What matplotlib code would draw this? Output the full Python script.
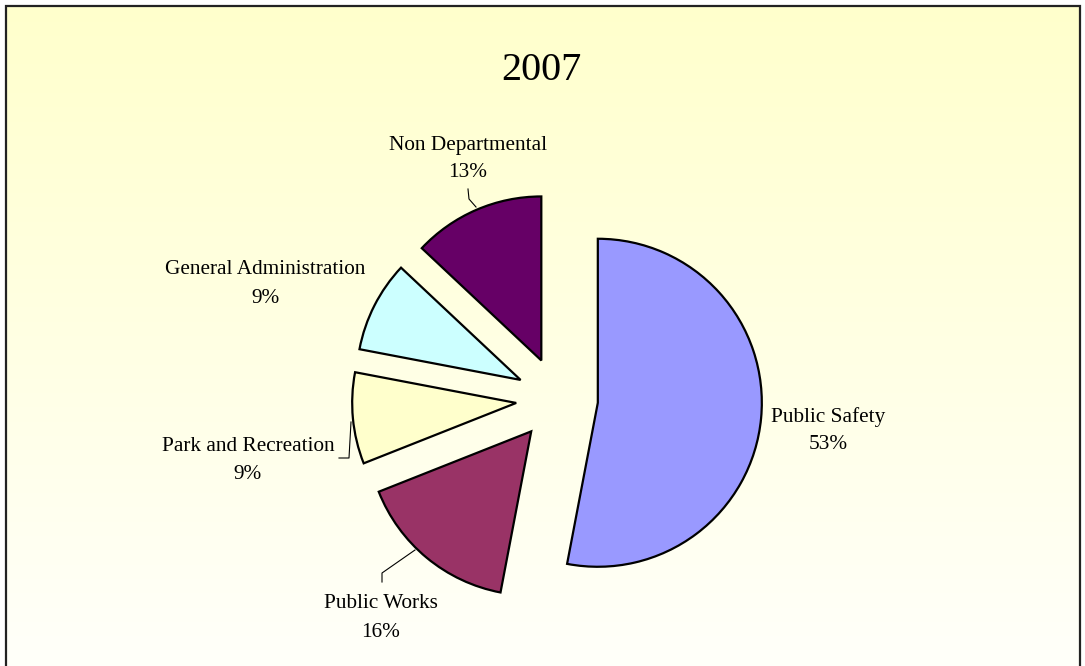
import numpy as np
import matplotlib
matplotlib.use("Agg")
import matplotlib.pyplot as plt

# Budget shares for 2007 (percent), clockwise from 12 o'clock
categories = ["Public Safety", "Public Works", "Park and Recreation",
              "General Administration", "Non Departmental"]
shares = [53, 16, 9, 9, 13]
colors = ["#9999FF", "#993366", "#FFFFCC", "#CCFFFF", "#660066"]
title = "2007"

W, H = 1085, 666
fig = plt.figure(figsize=(W / 100, H / 100), dpi=100)
ax = fig.add_axes([0, 0, 1, 1])
ax.set_xlim(0, W)
ax.set_ylim(0, H)
ax.set_aspect("equal")
ax.axis("off")


def Y(py):
    """Convert a top-down pixel row into the axes' bottom-up coordinate."""
    return H - py


# Chart area: pale yellow fading to near white, framed on three sides
top = np.array([255, 255, 204]) / 255
bot = np.array([255, 255, 250]) / 255
t = np.linspace(0, 1, 256)[:, None]
grad = (top * (1 - t) + bot * t)[:, None, :]
ax.imshow(grad, extent=[6, 1080, Y(H), Y(6)], aspect="auto", zorder=0,
          interpolation="bilinear")
ax.plot([6, 6, 1080, 1080], [Y(H), Y(6), Y(6), Y(H)], color="#222222",
        lw=1.6, zorder=1, solid_joinstyle="miter")

# Exploded pie
explode = [40, 42, 42, 42, 42]
ax.pie(shares, colors=colors, explode=explode, startangle=90,
       counterclock=False, center=(558, Y(399)), radius=164,
       wedgeprops=dict(edgecolor="black", linewidth=1.6),
       frame=True)
ax.set_xlim(0, W)
ax.set_ylim(0, H)
ax.axis("off")

font = dict(family="Liberation Serif", color="black", fontsize=15.3)

# Category name and percentage for each slice (x centre, baselines)
label_pos = [
    (828, 422, 449),
    (381, 608, 637),
    (248, 451, 479),
    (265, 274, 303),
    (468, 150, 177),
]
for name, val, (x, b1, b2) in zip(categories, shares, label_pos):
    ax.text(x, Y(b1), name, ha="center", va="baseline", **font)
    ax.text(x, Y(b2), f"{val}%", ha="center", va="baseline", **font)

# Leader lines from labels to their slices
leaders = [
    [(382, 582), (382, 573), (415, 550)],
    [(339, 458), (349, 458), (351, 422)],
    [(468, 189), (469, 199), (476, 207)],
]
for pts in leaders:
    xs, ys = zip(*pts)
    ax.plot(xs, [Y(v) for v in ys], color="black", lw=0.8, zorder=5)

ax.text(541, Y(80), title, ha="center", va="baseline",
        family="Liberation Serif", fontsize=29, color="black")

fig.savefig("out.png", dpi=100)
